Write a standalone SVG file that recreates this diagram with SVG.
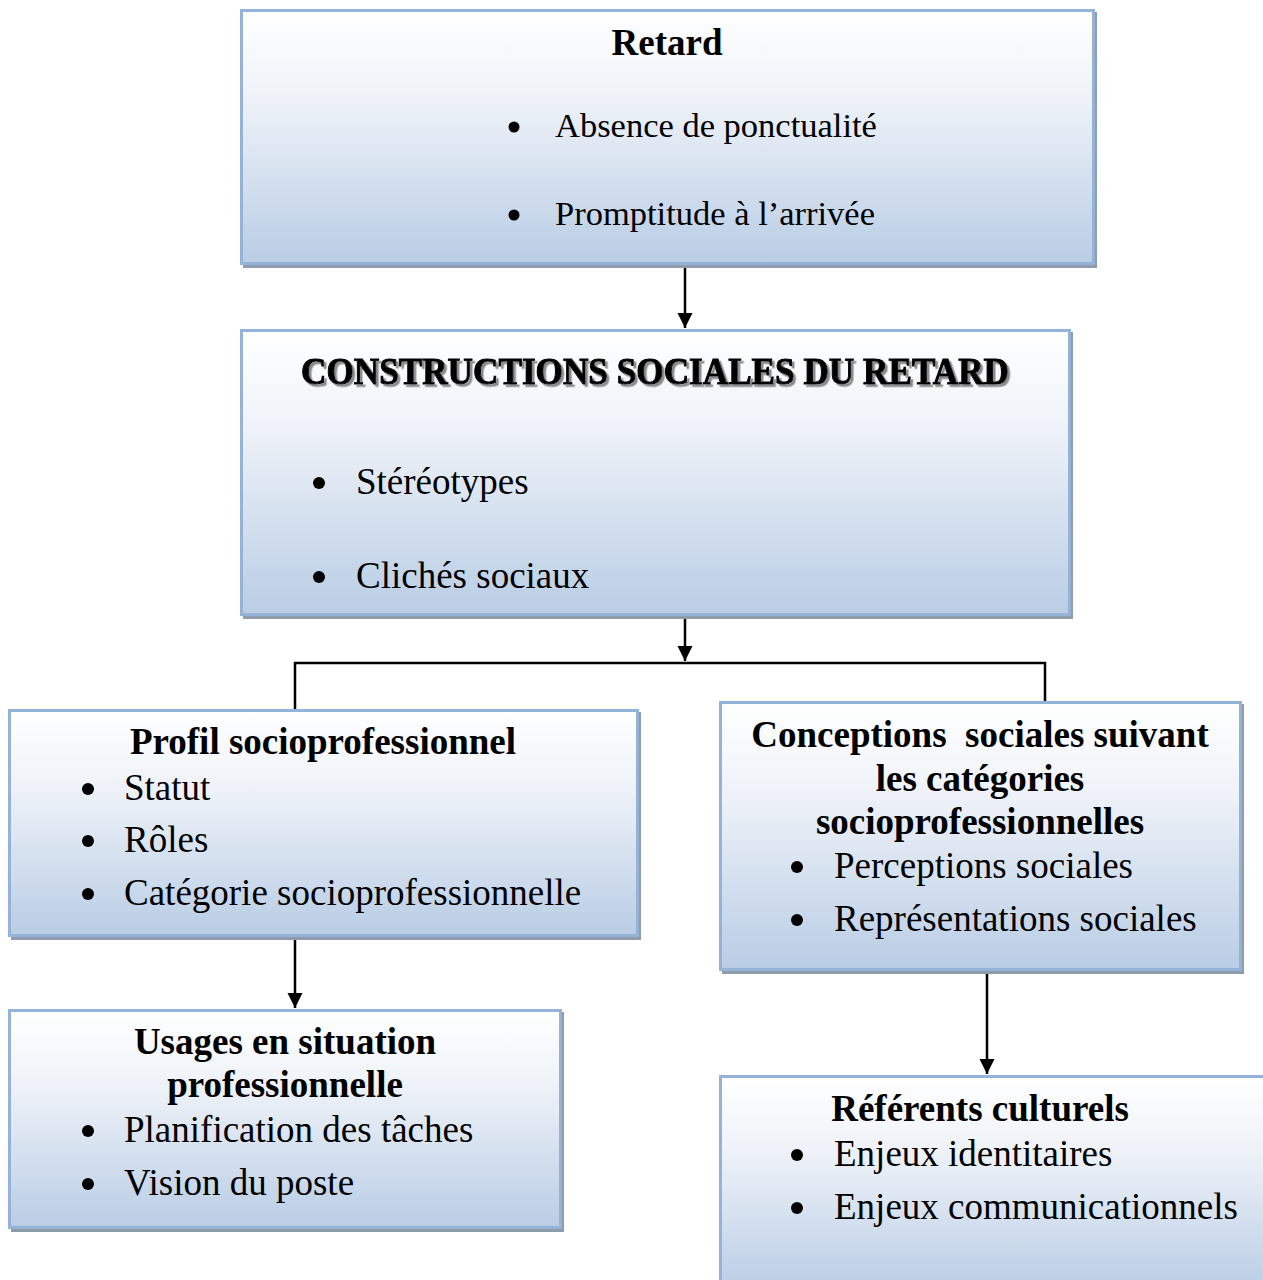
<svg xmlns="http://www.w3.org/2000/svg" width="1263" height="1280" viewBox="0 0 1263 1280">
<style>
.box{stroke:#95b3d7;stroke-width:3;fill:url(#g)}
.sh{fill:#8e9cab}
.t{font-family:"Liberation Serif","Times New Roman",serif;font-size:37px;fill:#000}
.s{font-size:34.5px}
.b{font-weight:bold;text-anchor:middle}
.c{stroke:#000;stroke-width:2.5;fill:none}
</style>
<defs>
<linearGradient id="g" x1="0" y1="0" x2="0" y2="1">
<stop offset="0" stop-color="#ffffff"/>
<stop offset="0.35" stop-color="#eef2f8"/>
<stop offset="1" stop-color="#b9cde5"/>
</linearGradient>
<filter id="ds" x="-5%" y="-30%" width="110%" height="160%">
<feDropShadow dx="2.5" dy="2.5" stdDeviation="0.6" flood-color="#8a8a8a" flood-opacity="1"/>
</filter>
<marker id="a" viewBox="0 0 10 10" refX="10" refY="5" markerWidth="6.2" markerHeight="6.2" orient="auto" markerUnits="strokeWidth">
<path d="M0,0 L10,5 L0,10 z" fill="#000"/>
</marker>
</defs>
<rect width="1263" height="1280" fill="#fff"/>
<g id="connectors">
<line class="c" x1="685" y1="266" x2="685" y2="328" marker-end="url(#a)"/>
<line class="c" x1="685" y1="616" x2="685" y2="661" marker-end="url(#a)"/>
<polyline class="c" points="295,709 295,663 1045,663 1045,701"/>
<line class="c" x1="295" y1="939" x2="295" y2="1008" marker-end="url(#a)"/>
<line class="c" x1="987" y1="973" x2="987" y2="1074" marker-end="url(#a)"/>
</g>
<g id="n1">
<rect class="sh" x="243" y="12" width="854" height="256"/>
<rect class="box" x="241.5" y="10.5" width="852" height="253"/>
<text class="t b" x="667" y="55">Retard</text>
<circle cx="514" cy="127" r="5.5"/>
<text class="t s" x="555" y="137">Absence de ponctualité</text>
<circle cx="514" cy="215" r="5.5"/>
<text class="t s" x="555" y="225">Promptitude à l’arrivée</text>
</g>
<g id="n2">
<rect class="sh" x="243" y="332" width="830" height="287"/>
<rect class="box" x="241.5" y="330.5" width="828" height="284"/>
<text class="t" x="301" y="384" font-size="42" font-weight="bold" stroke="#000" stroke-width="1" filter="url(#ds)" textLength="708" lengthAdjust="spacingAndGlyphs">CONSTRUCTIONS SOCIALES DU RETARD</text>
<circle cx="319" cy="483" r="6"/>
<text class="t" x="356" y="494">Stéréotypes</text>
<circle cx="319" cy="577" r="6"/>
<text class="t" x="356" y="588">Clichés sociaux</text>
</g>
<g id="n3">
<rect class="sh" x="11" y="712" width="630" height="228"/>
<rect class="box" x="9.5" y="710.5" width="628" height="225"/>
<text class="t b" x="323" y="754">Profil socioprofessionnel</text>
<circle cx="88" cy="789" r="6"/>
<text class="t" x="124" y="800">Statut</text>
<circle cx="88" cy="841" r="6"/>
<text class="t" x="124" y="852">Rôles</text>
<circle cx="88" cy="894" r="6"/>
<text class="t" x="124" y="905">Catégorie socioprofessionnelle</text>
</g>
<g id="n4">
<rect class="sh" x="722" y="704" width="522" height="270"/>
<rect class="box" x="720.5" y="702.5" width="520" height="267"/>
<text class="t b" x="980" y="747">Conceptions&#160; sociales suivant</text>
<text class="t b" x="980" y="791">les catégories</text>
<text class="t b" x="980" y="834">socioprofessionnelles</text>
<circle cx="797" cy="867" r="6"/>
<text class="t" x="834" y="878">Perceptions sociales</text>
<circle cx="797" cy="920" r="6"/>
<text class="t" x="834" y="931">Représentations sociales</text>
</g>
<g id="n5">
<rect class="sh" x="11" y="1012" width="553" height="220"/>
<rect class="box" x="9.5" y="1010.5" width="551" height="217"/>
<text class="t b" x="285" y="1054">Usages en situation</text>
<text class="t b" x="285" y="1097">professionnelle</text>
<circle cx="88" cy="1131" r="6"/>
<text class="t" x="124" y="1142">Planification des tâches</text>
<circle cx="88" cy="1184" r="6"/>
<text class="t" x="124" y="1195">Vision du poste</text>
</g>
<g id="n6">
<rect class="box" x="720.5" y="1076.5" width="545" height="215"/>
<text class="t b" x="980" y="1121">Référents culturels</text>
<circle cx="797" cy="1155" r="6"/>
<text class="t" x="834" y="1166">Enjeux identitaires</text>
<circle cx="797" cy="1208" r="6"/>
<text class="t" x="834" y="1219">Enjeux communicationnels</text>
</g>
</svg>
